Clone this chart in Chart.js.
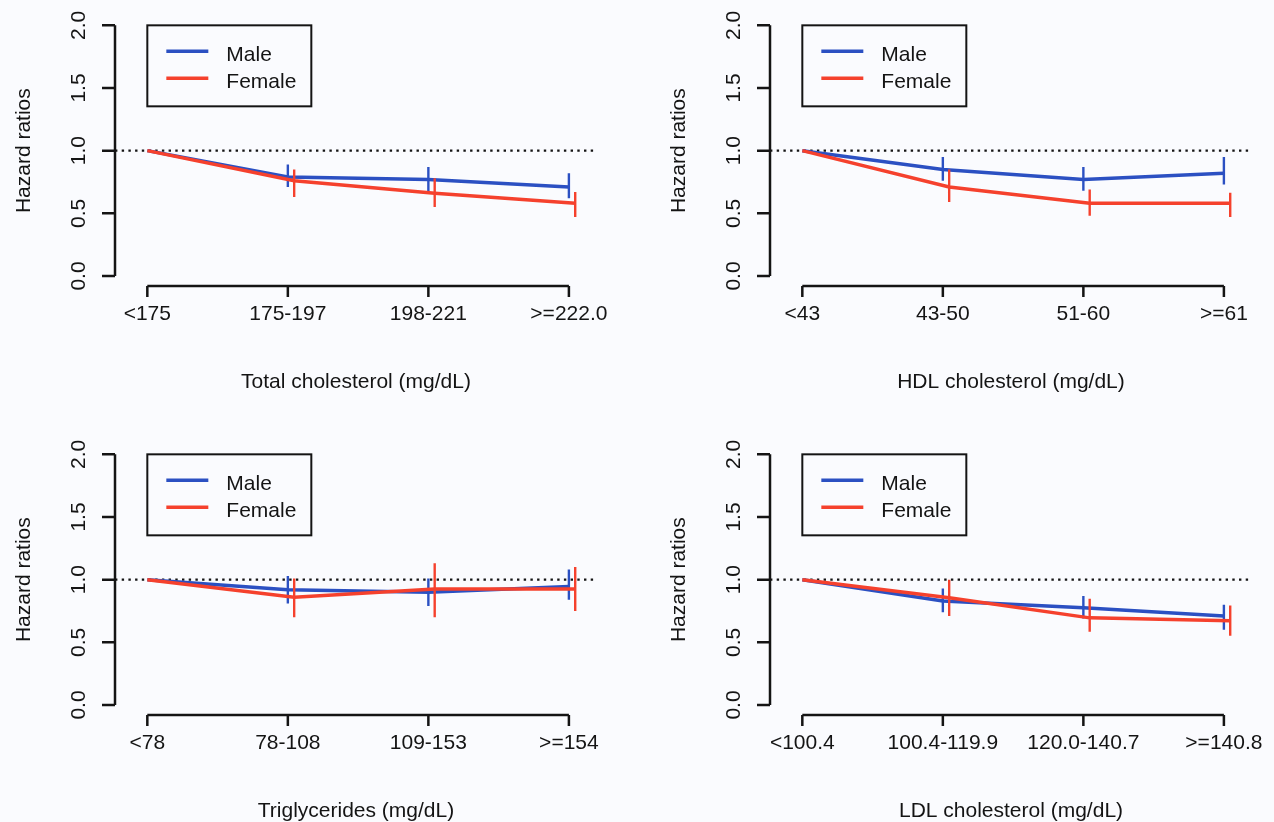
<!DOCTYPE html>
<html>
<head>
<meta charset="utf-8">
<script src="https://cdn.jsdelivr.net/npm/chart.js@4.4.1/dist/chart.umd.min.js"></script>
<style>
  html, body { margin: 0; padding: 0; background: #fafbfe; overflow: hidden; }
  body { width: 1274px; height: 822px; position: relative; }
  canvas { position: absolute; }
</style>
</head>
<body>
<canvas id="c1" width="655" height="429" style="left:0;top:0"></canvas>
<canvas id="c2" width="619" height="429" style="left:655px;top:0"></canvas>
<canvas id="c3" width="655" height="429" style="left:0;top:429px"></canvas>
<canvas id="c4" width="619" height="429" style="left:655px;top:429px"></canvas>
<script>
const seriesNames = ['Male', 'Female'];
const yTicks = [0, 0.5, 1, 1.5, 2];

// total cholesterol
const cats1 = ['<175', '175-197', '198-221', '>=222.0'];
const male1 = [1, 0.79, 0.77, 0.71];
const male1Lo = [null, 0.71, 0.67, 0.62];
const male1Hi = [null, 0.89, 0.87, 0.82];
const female1 = [1, 0.76, 0.66, 0.58];
const female1Lo = [null, 0.63, 0.55, 0.47];
const female1Hi = [null, 0.85, 0.78, 0.67];

// HDL
const cats2 = ['<43', '43-50', '51-60', '>=61'];
const male2 = [1, 0.85, 0.77, 0.82];
const male2Lo = [null, 0.76, 0.68, 0.73];
const male2Hi = [null, 0.95, 0.87, 0.95];
const female2 = [1, 0.71, 0.58, 0.58];
const female2Lo = [null, 0.59, 0.48, 0.47];
const female2Hi = [null, 0.85, 0.69, 0.665];

// triglycerides
const cats3 = ['<78', '78-108', '109-153', '>=154'];
const male3 = [1, 0.92, 0.90, 0.945];
const male3Lo = [null, 0.81, 0.79, 0.84];
const male3Hi = [null, 1.03, 1.01, 1.08];
const female3 = [1, 0.86, 0.925, 0.925];
const female3Lo = [null, 0.70, 0.70, 0.75];
const female3Hi = [null, 1.01, 1.13, 1.10];

// LDL
const cats4 = ['<100.4', '100.4-119.9', '120.0-140.7', '>=140.8'];
const male4 = [1, 0.83, 0.775, 0.71];
const male4Lo = [null, 0.74, 0.69, 0.60];
const male4Hi = [null, 0.93, 0.87, 0.80];
const female4 = [1, 0.855, 0.695, 0.673];
const female4Lo = [null, 0.71, 0.585, 0.553];
const female4Hi = [null, 1.0, 0.847, 0.793];

const BLUE = '#2b50c2';
const RED = '#f5412d';
const INK = '#141414';
const BG = '#fafbfe';
const FONT = {family: "'Liberation Sans', Arial, sans-serif", size: 21};
const FEMALE_OFF = 0.045;

function curve(vals, off) {
    return vals.map((v, i) => ({x: i === 0 ? 0 : i + off, y: v}));
}

function errBars(lo, hi, off) {
    const out = [];
    for (let i = 1; i < lo.length; i++) {
        out.push({x: i + off, y: lo[i]}, {x: i + off, y: hi[i]}, {x: i + off, y: null});
    }
    return out;
}

// R style axes: y axis only from 0 to 2, x axis only over the categories
const rAxes = {
    id: 'rAxes',
    beforeDatasetsDraw(chart) {
        const {ctx, chartArea, scales: {x, y}} = chart;
        ctx.save();
        ctx.strokeStyle = INK;
        ctx.lineWidth = 2.5;
        ctx.beginPath();
        ctx.moveTo(chartArea.left, y.getPixelForValue(yTicks[0]));
        ctx.lineTo(chartArea.left, y.getPixelForValue(yTicks[yTicks.length - 1]));
        yTicks.forEach(v => {
            const p = y.getPixelForValue(v);
            ctx.moveTo(chartArea.left, p);
            ctx.lineTo(chartArea.left - 13, p);
        });
        const n = x.ticks.length;
        ctx.moveTo(x.getPixelForValue(0), chartArea.bottom);
        ctx.lineTo(x.getPixelForValue(n - 1), chartArea.bottom);
        x.ticks.forEach(t => {
            const p = x.getPixelForValue(t.value);
            ctx.moveTo(p, chartArea.bottom);
            ctx.lineTo(p, chartArea.bottom + 11);
        });
        ctx.stroke();
        ctx.restore();
    }
};

const rLegend = {
    id: 'rLegend',
    afterDatasetsDraw(chart) {
        const {ctx, scales: {x, y}} = chart;
        const left = x.getPixelForValue(0);
        const top = y.getPixelForValue(2);
        ctx.save();
        ctx.fillStyle = BG;
        ctx.fillRect(left, top, 164, 81);
        ctx.strokeStyle = INK;
        ctx.lineWidth = 2;
        ctx.strokeRect(left, top, 164, 81);
        const colors = [BLUE, RED];
        seriesNames.forEach((name, i) => {
            const ly = top + 26 + i * 27;
            ctx.strokeStyle = colors[i];
            ctx.lineWidth = 3.5;
            ctx.beginPath();
            ctx.moveTo(left + 19, ly);
            ctx.lineTo(left + 61, ly);
            ctx.stroke();
            ctx.fillStyle = INK;
            ctx.font = FONT.size + 'px ' + FONT.family;
            ctx.textBaseline = 'middle';
            ctx.fillText(name, left + 79, ly + 4);
        });
        ctx.restore();
    }
};

function makePanel(id, cats, male, maleLo, maleHi, female, femaleLo, femaleHi, xTitle, padRight) {
    new Chart(document.getElementById(id), {
        type: 'line',
        data: {
            datasets: [
                {label: 'ref', data: [{x: -0.23, y: 1}, {x: 3.2, y: 1}], borderColor: INK, borderWidth: 2.4, borderDash: [2.4, 4.3], order: 4},
                {label: seriesNames[0], data: curve(male, 0), borderColor: BLUE, borderWidth: 3.5, order: 3},
                {label: seriesNames[0] + ' CI', data: errBars(maleLo, maleHi, 0), borderColor: BLUE, borderWidth: 2.4, spanGaps: false, order: 2},
                {label: seriesNames[1], data: curve(female, FEMALE_OFF), borderColor: RED, borderWidth: 3.5, order: 1},
                {label: seriesNames[1] + ' CI', data: errBars(femaleLo, femaleHi, FEMALE_OFF), borderColor: RED, borderWidth: 2.4, spanGaps: false, order: 0}
            ]
        },
        options: {
            responsive: false,
            animation: false,
            layout: {padding: {left: 0, top: 15.3, right: padRight, bottom: 0}},
            elements: {point: {radius: 0, hoverRadius: 0}, line: {tension: 0}},
            plugins: {legend: {display: false}, tooltip: {enabled: false}},
            events: [],
            scales: {
                x: {
                    type: 'linear',
                    min: -0.23,
                    max: 3.2,
                    afterBuildTicks: s => { s.ticks = cats.map((c, i) => ({value: i})); },
                    afterFit: s => { s.height = 143; s.paddingLeft = 0; s.paddingRight = 0; },
                    ticks: {callback: v => cats[v], autoSkip: false, minRotation: 0, maxRotation: 0, padding: 5, color: INK, font: FONT},
                    grid: {display: false, drawTicks: true, tickLength: 11},
                    border: {display: false},
                    title: {display: true, text: xTitle, color: INK, font: FONT, padding: {top: 0, bottom: 34}}
                },
                y: {
                    type: 'linear',
                    min: -0.08,
                    max: 2.08,
                    afterBuildTicks: s => { s.ticks = yTicks.map(v => ({value: v})); },
                    afterFit: s => { s.width = 115; s.paddingTop = 0; s.paddingBottom = 0; },
                    ticks: {callback: v => v.toFixed(1), minRotation: 90, maxRotation: 90, crossAlign: 'center', padding: 8, color: INK, font: FONT},
                    grid: {display: false, drawTicks: true, tickLength: 13},
                    border: {display: false},
                    title: {display: true, text: 'Hazard ratios', color: INK, font: FONT, padding: {top: 12, bottom: 0}}
                }
            }
        },
        plugins: [rAxes, rLegend]
    });
}

makePanel('c1', cats1, male1, male1Lo, male1Hi, female1, female1Lo, female1Hi, 'Total cholesterol (mg/dL)', 58);
makePanel('c2', cats2, male2, male2Lo, male2Hi, female2, female2Lo, female2Hi, 'HDL cholesterol (mg/dL)', 22);
makePanel('c3', cats3, male3, male3Lo, male3Hi, female3, female3Lo, female3Hi, 'Triglycerides (mg/dL)', 58);
makePanel('c4', cats4, male4, male4Lo, male4Hi, female4, female4Lo, female4Hi, 'LDL cholesterol (mg/dL)', 22);
</script>
</body>
</html>
